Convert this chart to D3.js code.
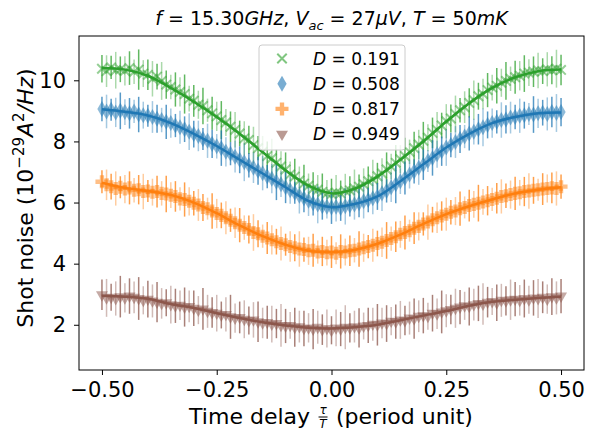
<!DOCTYPE html>
<html>
<head>
<meta charset="utf-8">
<script src="https://cdn.jsdelivr.net/npm/d3@7"></script>
<style>
  body { margin: 0; background: #fff; }
  svg { font-family: "DejaVu Sans", sans-serif; }
</style>
</head>
<body>
<svg id="chart" width="589" height="434"></svg>
<script>
// sampling grid of the delay (period units) and of the fitted curves
const tau = d3.range(101).map(i => Math.round((-0.5 + i * 0.01) * 100) / 100);
const tauFit = d3.range(21).map(i => Math.round((-0.5 + i * 0.05) * 100) / 100);

const labels = ["0.191", "0.508", "0.817", "0.949"];
const colors = ["#2ca02c", "#1f77b4", "#ff7f0e", "#8c564b"];
const markers = ["x", "d", "P", "v"];

const green = [10.38,10.30,10.42,10.33,10.36, 10.31,10.40,10.28,10.35,10.22, 10.18,10.05,10.12,9.98,9.86, 9.78,9.70,9.62,9.55,9.40,
  9.33,9.20,9.16,9.02,8.92, 8.82,8.70,8.62,8.48,8.38, 8.26,8.10,8.05,7.88,7.78, 7.66,7.52,7.45,7.30,7.18,
  7.08,6.92,6.85,6.72,6.62, 6.55,6.45,6.42,6.35,6.30, 6.28,6.32,6.30,6.38,6.40, 6.46,6.52,6.60,6.70,6.76,
  6.86,6.95,7.08,7.18,7.30, 7.42,7.52,7.66,7.78,7.90, 8.02,8.12,8.28,8.38,8.52, 8.66,8.75,8.90,9.02,9.12,
  9.26,9.35,9.48,9.55,9.68, 9.76,9.82,9.92,9.98,10.05, 10.10,10.15,10.22,10.25,10.28, 10.32,10.30,10.36,10.33,10.38,
  10.34];
const blue = [9.06,8.98,9.04,8.95,9.00, 8.96,8.92,8.98,8.88,8.86, 8.84,8.80,8.74,8.70,8.64, 8.60,8.52,8.46,8.40,8.32,
  8.24,8.18,8.08,8.02,7.92, 7.84,7.78,7.66,7.60,7.50, 7.40,7.32,7.22,7.14,7.04, 6.96,6.85,6.78,6.68,6.60,
  6.50,6.40,6.32,6.22,6.14, 6.06,5.98,5.94,5.88,5.86, 5.84,5.86,5.82,5.88,5.90, 5.94,5.98,6.04,6.08,6.14,
  6.20,6.30,6.38,6.50,6.60, 6.70,6.80,6.92,7.02,7.14, 7.24,7.36,7.46,7.58,7.68, 7.80,7.88,7.98,8.08,8.16,
  8.26,8.32,8.40,8.46,8.54, 8.60,8.64,8.70,8.72,8.78, 8.80,8.84,8.86,8.90,8.88, 8.92,8.94,8.90,8.96,8.93,
  8.96];
const orange = [6.68,6.58,6.52,6.46,6.50, 6.44,6.48,6.40,6.42,6.36, 6.38,6.34,6.36,6.30,6.28, 6.24,6.20,6.12,6.10,6.04,
  5.98,5.92,5.84,5.80,5.72, 5.64,5.58,5.50,5.42,5.34, 5.26,5.18,5.12,5.02,4.98, 4.90,4.84,4.78,4.72,4.66,
  4.62,4.56,4.52,4.48,4.46, 4.42,4.44,4.38,4.40,4.36, 4.38,4.34,4.40,4.38,4.42, 4.44,4.48,4.52,4.56,4.60,
  4.66,4.70,4.76,4.82,4.88, 4.96,5.02,5.08,5.16,5.22, 5.30,5.36,5.44,5.50,5.56, 5.62,5.68,5.72,5.80,5.84,
  5.90,5.94,5.98,6.02,6.06, 6.10,6.14,6.20,6.22,6.26, 6.30,6.32,6.36,6.38,6.40, 6.42,6.44,6.46,6.48,6.46,
  6.52];
const brown = [2.98,2.88,2.90,2.86,2.92, 2.88,2.94,2.90,2.86,2.80, 2.84,2.78,2.74,2.70,2.72, 2.66,2.62,2.64,2.58,2.60,
  2.54,2.48,2.52,2.44,2.40, 2.38,2.32,2.34,2.26,2.22, 2.24,2.18,2.14,2.16,2.10, 2.06,2.08,2.02,2.04,1.98,
  1.96,1.98,1.92,1.94,1.88, 1.90,1.86,1.92,1.84,1.88, 1.82,1.90,1.86,1.92,1.90, 1.94,1.90,1.96,1.98,2.02,
  2.00,2.06,2.04,2.12,2.10, 2.16,2.14,2.22,2.20,2.28, 2.30,2.28,2.38,2.36,2.42, 2.46,2.50,2.54,2.58,2.62,
  2.60,2.66,2.70,2.68,2.74, 2.76,2.72,2.80,2.78,2.82, 2.84,2.80,2.86,2.82,2.88, 2.86,2.90,2.84,2.92,2.88,
  2.94];

const greenErr = [.45,.52,.38,.60,.42, .48,.55,.40,.66,.44, .50,.58,.42,.62,.46, .40,.56,.48,.64,.42,
  .52,.46,.60,.38,.54, .48,.62,.44,.50,.58, .42,.56,.46,.60,.40, .52,.48,.64,.44,.50,
  .56,.42,.58,.46,.62, .40,.54,.48,.60,.44, .50,.58,.42,.56,.46, .62,.40,.52,.48,.64,
  .44,.50,.56,.42,.58, .46,.60,.40,.54,.48, .62,.44,.50,.58,.42, .56,.46,.60,.40,.52,
  .48,.64,.44,.50,.56, .42,.58,.46,.62,.40, .54,.48,.60,.44,.50, .58,.42,.56,.46,.62,
  .50];
const blueErr = [.40,.55,.36,.48,.60, .42,.50,.38,.58,.44, .36,.52,.46,.40,.56, .48,.38,.54,.42,.60,
  .44,.50,.36,.56,.46, .40,.58,.48,.38,.52, .44,.62,.40,.50,.46, .56,.38,.48,.60,.42,
  .52,.44,.36,.58,.46, .50,.40,.62,.44,.38, .54,.48,.42,.60,.36, .50,.46,.56,.40,.52,
  .44,.58,.38,.48,.62, .42,.54,.46,.40,.56, .50,.36,.58,.44,.48, .60,.40,.52,.46,.38,
  .56,.42,.50,.62,.44, .48,.38,.58,.46,.52, .40,.56,.44,.36,.60, .48,.42,.54,.50,.62,
  .46];
const orangeErr = [.38,.50,.42,.56,.36, .46,.54,.40,.48,.58, .36,.44,.52,.40,.60, .42,.50,.38,.56,.46,
  .40,.52,.44,.36,.58, .48,.42,.54,.38,.50, .56,.40,.46,.60,.44, .38,.52,.48,.42,.56,
  .36,.50,.44,.58,.40, .46,.54,.38,.48,.42, .52,.36,.56,.44,.50, .40,.58,.46,.38,.54,
  .42,.48,.60,.40,.50, .44,.56,.36,.52,.46, .38,.58,.42,.50,.48, .54,.40,.46,.56,.36,
  .52,.44,.60,.42,.48, .38,.50,.56,.40,.46, .54,.42,.48,.58,.44, .36,.52,.46,.50,.56,
  .40];
const brownErr = [.50,.62,.44,.56,.68, .48,.58,.52,.70,.46, .60,.54,.66,.50,.44, .62,.56,.48,.64,.52,
  .58,.46,.68,.54,.50, .60,.44,.56,.72,.48, .52,.62,.46,.58,.66, .50,.54,.60,.48,.70,
  .56,.44,.64,.52,.58, .48,.66,.54,.50,.62, .46,.60,.56,.72,.48, .52,.64,.44,.58,.54,
  .68,.50,.60,.46,.56, .62,.48,.54,.66,.52, .58,.44,.60,.50,.70, .54,.48,.64,.56,.46,
  .62,.52,.58,.68,.50, .44,.60,.54,.48,.66, .56,.50,.62,.46,.58, .64,.52,.48,.60,.54,
  .56];

const greenFit = [10.40,10.35,10.15,9.75,9.30,8.80,8.25,7.65,7.05,6.55,6.30,6.45,6.85,7.40,8.00,8.65,9.25,9.75,10.10,10.30,10.35];
const blueFit = [9.05,8.97,8.85,8.60,8.25,7.85,7.40,6.95,6.50,6.05,5.85,5.95,6.20,6.70,7.25,7.80,8.25,8.60,8.80,8.92,8.95];
const orangeFit = [6.65,6.48,6.38,6.25,6.00,5.65,5.25,4.90,4.62,4.42,4.38,4.45,4.65,4.95,5.30,5.62,5.88,6.10,6.30,6.42,6.50];
const brownFit = [2.95,2.92,2.85,2.68,2.55,2.38,2.22,2.08,1.98,1.90,1.88,1.92,2.00,2.15,2.30,2.45,2.62,2.75,2.82,2.88,2.92];

const xTicks = [-0.5, -0.25, 0, 0.25, 0.5];
const yTicks = [2, 4, 6, 8, 10];

const series = [
  { values: green, err: greenErr, fit: greenFit },
  { values: blue, err: blueErr, fit: blueFit },
  { values: orange, err: orangeErr, fit: orangeFit },
  { values: brown, err: brownErr, fit: brownFit }
].map((s, i) => ({ ...s, label: labels[i], color: colors[i], marker: markers[i] }));

const svg = d3.select("#chart");
const plot = { left: 79, right: 584, top: 36, bottom: 370 };

const x = d3.scaleLinear().domain([-0.55, 0.55]).range([plot.left, plot.right]);
const y = d3.scaleLinear().domain([0.52, 11.45]).range([plot.bottom, plot.top]);

// marker shapes, roughly matplotlib's x, d, P, v
function markerPath(m) {
  if (m === "x") return d3.symbol(d3.symbolX, 60)();
  if (m === "d") return d3.symbol(d3.symbolDiamond, 74)();
  if (m === "P") return d3.symbol(d3.symbolCross, 94)();
  return d3.symbol(d3.symbolTriangle, 62)();
}
function markerTransform(m) {
  if (m === "v") return "rotate(180)";
  return "";
}
function styleMarker(sel, s, alpha) {
  sel.attr("d", markerPath(s.marker));
  if (s.marker === "x") {
    sel.attr("fill", "none").attr("stroke", s.color).attr("stroke-width", 2).attr("stroke-opacity", alpha);
  } else {
    sel.attr("fill", s.color).attr("fill-opacity", alpha);
  }
}

// data: error bars + markers
series.forEach(s => {
  const g = svg.append("g");
  const pts = tau.map((t, i) => ({ t, v: s.values[i], e: s.err[i], i }));

  g.selectAll("line.err")
    .data(pts)
    .join("line")
    .attr("class", "err")
    .attr("x1", d => x(d.t))
    .attr("x2", d => x(d.t))
    .attr("y1", d => y(d.v - d.e))
    .attr("y2", d => y(d.v + d.e))
    .attr("stroke", s.color)
    .attr("stroke-width", 1.5)
    .attr("stroke-opacity", d => d.i % 2 === 0 ? 0.75 : 0.4);

  g.selectAll("path.mk")
    .data(pts)
    .join("path")
    .attr("class", "mk")
    .attr("transform", d => `translate(${x(d.t)},${y(d.v)}) ${markerTransform(s.marker)}`)
    .call(styleMarker, s, 0.5);
});

// fitted curves on top
const line = d3.line()
  .x((d, i) => x(tauFit[i]))
  .y(d => y(d))
  .curve(d3.curveCatmullRom);

series.forEach(s => {
  svg.append("path")
    .attr("d", line(s.fit))
    .attr("fill", "none")
    .attr("stroke", s.color)
    .attr("stroke-width", 2.5);
});

// axes
const xAxis = svg.append("g")
  .attr("transform", `translate(0,${plot.bottom})`)
  .call(d3.axisBottom(x).tickValues(xTicks).tickFormat(d3.format(".2f")).tickSizeOuter(0).tickSize(5).tickPadding(7));
const yAxis = svg.append("g")
  .attr("transform", `translate(${plot.left},0)`)
  .call(d3.axisLeft(y).tickValues(yTicks).tickFormat(d3.format("d")).tickSizeOuter(0).tickSize(5).tickPadding(8));

[xAxis, yAxis].forEach(a => {
  a.select(".domain").remove();
  a.selectAll("text").attr("font-family", "DejaVu Sans").attr("font-size", 21).attr("fill", "#000");
  a.selectAll("line").attr("stroke", "#000").attr("stroke-width", 1);
});

svg.append("rect")
  .attr("x", plot.left).attr("y", plot.top)
  .attr("width", plot.right - plot.left).attr("height", plot.bottom - plot.top)
  .attr("fill", "none").attr("stroke", "#000").attr("stroke-width", 1);

// title
const title = svg.append("text")
  .attr("x", (plot.left + plot.right) / 2).attr("y", 25)
  .attr("text-anchor", "middle").attr("font-size", 19);
title.append("tspan").attr("font-style", "italic").text("f");
title.append("tspan").text(" = 15.30");
title.append("tspan").attr("font-style", "italic").text("GHz");
title.append("tspan").text(", ");
title.append("tspan").attr("font-style", "italic").text("V");
title.append("tspan").attr("font-style", "italic").attr("font-size", 13).attr("dy", 5).text("ac");
title.append("tspan").attr("dy", -5).text(" = 27");
title.append("tspan").attr("font-style", "italic").text("μV");
title.append("tspan").text(", ");
title.append("tspan").attr("font-style", "italic").text("T");
title.append("tspan").text(" = 50");
title.append("tspan").attr("font-style", "italic").text("mK");

// y label
const yl = svg.append("text")
  .attr("transform", "translate(33,198) rotate(-90)")
  .attr("text-anchor", "middle").attr("font-size", 22);
yl.append("tspan").text("Shot noise (10");
yl.append("tspan").attr("font-size", 15).attr("dy", -9).text("−29");
yl.append("tspan").attr("dy", 9).attr("font-style", "italic").text("A");
yl.append("tspan").attr("font-size", 15).attr("dy", -9).text("2");
yl.append("tspan").attr("dy", 9).attr("font-style", "italic").text("/Hz");
yl.append("tspan").text(")");

// x label with the tau/T fraction
const xl = svg.append("g").attr("font-size", 22);
const xl1 = xl.append("text").attr("y", 424).text("Time delay");
const xl2 = xl.append("text").attr("y", 424).text("(period unit)");
const w1 = xl1.node().getComputedTextLength();
const w2 = xl2.node().getComputedTextLength();
const fracW = 10, gap = 8;
const total = w1 + gap + fracW + gap + w2;
const x0 = 331 - total / 2;
xl1.attr("x", x0);
const fx = x0 + w1 + gap + fracW / 2;
xl2.attr("x", fx + fracW / 2 + gap);
xl.append("text").attr("x", fx).attr("y", 414).attr("text-anchor", "middle")
  .attr("font-size", 12).attr("font-style", "italic").text("τ");
xl.append("line").attr("x1", fx - 4.5).attr("x2", fx + 4.5).attr("y1", 417).attr("y2", 417)
  .attr("stroke", "#000").attr("stroke-width", 1);
xl.append("text").attr("x", fx).attr("y", 428).attr("text-anchor", "middle")
  .attr("font-size", 12).attr("font-style", "italic").text("T");

// legend
const legend = svg.append("g");
legend.append("rect")
  .attr("x", 259).attr("y", 45).attr("width", 146).attr("height", 105).attr("rx", 3)
  .attr("fill", "#fff").attr("fill-opacity", 0.8).attr("stroke", "#cccccc").attr("stroke-width", 1);
series.forEach((s, i) => {
  const cy = 58.5 + i * 25.2;
  legend.append("path")
    .attr("transform", `translate(282,${cy}) ${markerTransform(s.marker)}`)
    .call(styleMarker, s, 0.6);
  const t = legend.append("text").attr("x", 313).attr("y", cy + 6).attr("font-size", 17);
  t.append("tspan").attr("font-style", "italic").text("D");
  t.append("tspan").text(" = " + s.label);
});
</script>
</body>
</html>
